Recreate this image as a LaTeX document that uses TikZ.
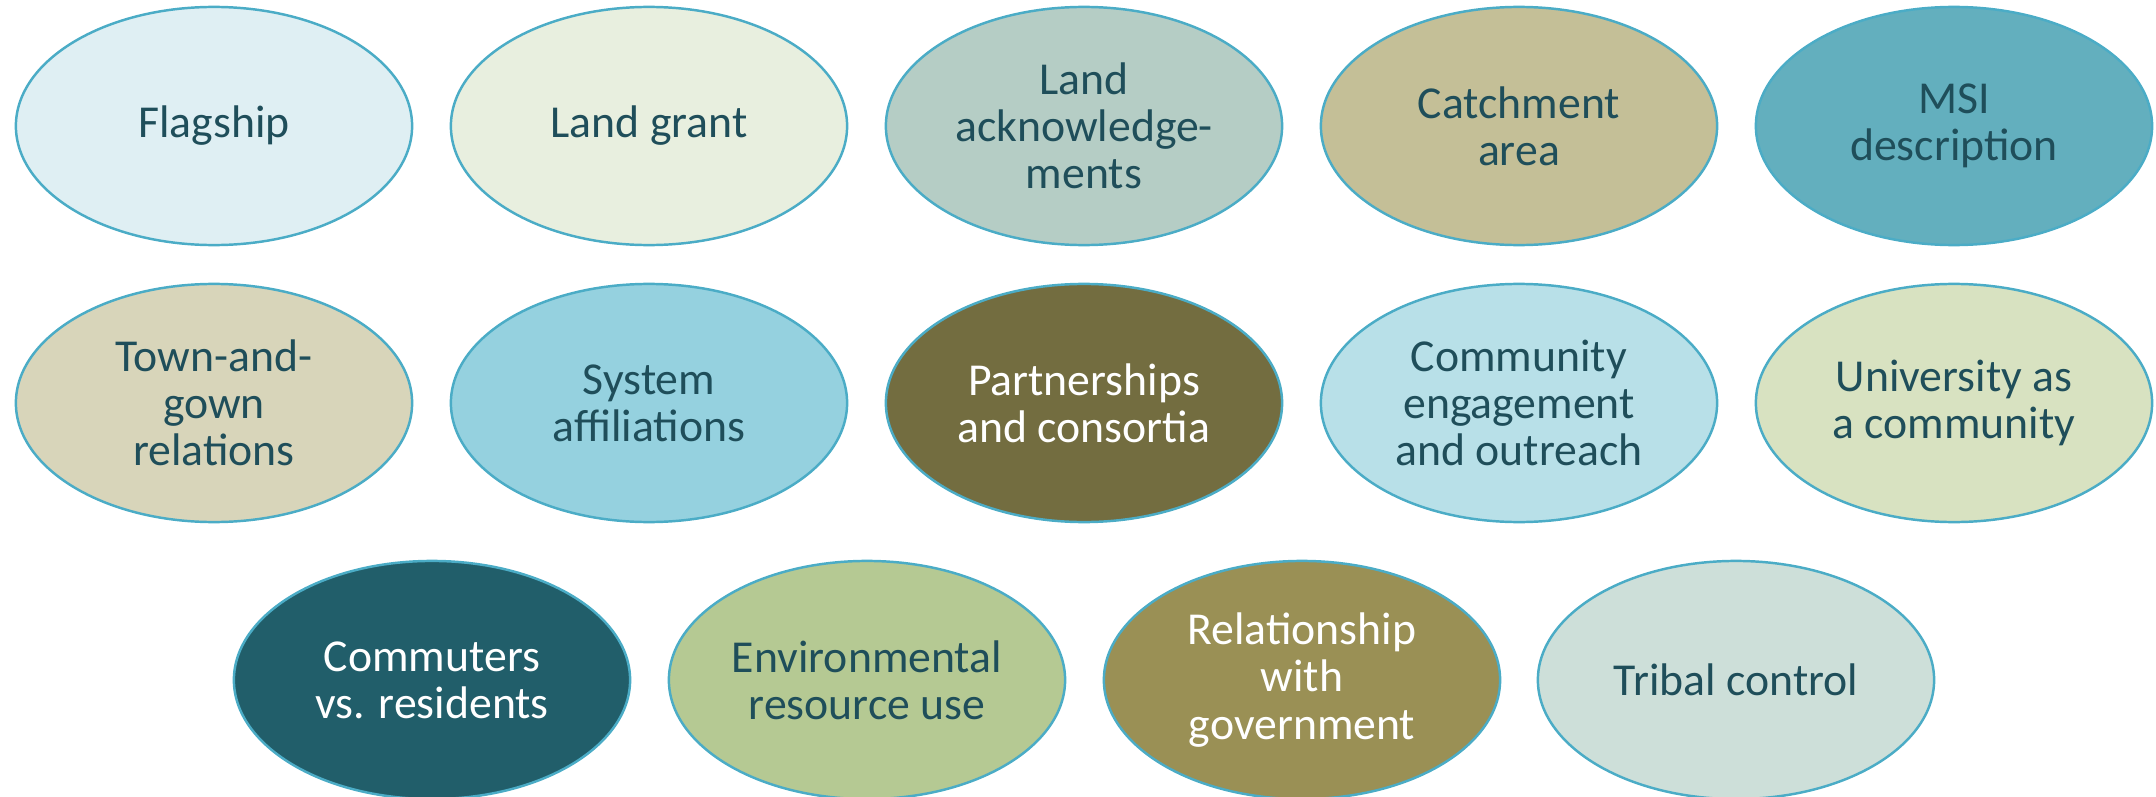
\documentclass[tikz,border=0pt]{standalone}
\usepackage{fontspec}
\setmainfont{Carlito}
\usetikzlibrary{shapes.geometric}

\definecolor{rim}{HTML}{4BACC6}
\definecolor{ink}{HTML}{1F4E5A}
\definecolor{flagfill}{HTML}{DFEFF3}
\definecolor{grantfill}{HTML}{E8EFDF}
\definecolor{ackfill}{HTML}{B5CDC5}
\definecolor{catchfill}{HTML}{C4BF97}
\definecolor{msifill}{HTML}{63AFBE}
\definecolor{townfill}{HTML}{D8D5BA}
\definecolor{sysfill}{HTML}{95D1DF}
\definecolor{partfill}{HTML}{736D40}
\definecolor{commfill}{HTML}{B8E0E8}
\definecolor{unifill}{HTML}{D8E2C1}
\definecolor{commutefill}{HTML}{215E6A}
\definecolor{envfill}{HTML}{B5C993}
\definecolor{govfill}{HTML}{9A9055}
\definecolor{tribfill}{HTML}{CDDFD9}

\begin{document}
\begin{tikzpicture}[x=0.01cm, y=-0.01cm,
    topic/.style={ellipse, draw=rim, line width=0.7pt, inner sep=0pt,
        minimum width=3.96cm, minimum height=2.38cm, text=ink, align=center,
        font=\fontsize{13pt}{13.4pt}\selectfont},
    lighttext/.style={text=white}]
\useasboundingbox (0,0) rectangle (2156,797);

% first row
\node[topic, fill=flagfill] (flag) at (214,126) {Flagship};
\node[topic, fill=grantfill] (grant) at (649,126) {Land grant};
\node[topic, fill=ackfill] (ack) at (1084,126) {Land\\acknowledge-\\ments};
\node[topic, fill=catchfill] (catch) at (1519,126) {Catchment\\area};
\node[topic, fill=msifill] (msi) at (1954,126) {MSI\\description};

% second row
\node[topic, fill=townfill] (town) at (214,403) {Town-and-\\gown\\relations};
\node[topic, fill=sysfill] (sys) at (649,403) {System\\affiliations};
\node[topic, fill=partfill, lighttext] (part) at (1084,403) {Partnerships\\and consortia};
\node[topic, fill=commfill] (comm) at (1519,403) {Community\\engagement\\and outreach};
\node[topic, fill=unifill] (uni) at (1954,403) {University as\\a community};

% third row
\node[topic, fill=commutefill, lighttext] (commute) at (432,680) {Commuters\\vs. residents};
\node[topic, fill=envfill] (env) at (867,680) {Environmental\\resource use};
\node[topic, fill=govfill, lighttext] (gov) at (1302,680) {Relationship\\with\\government};
\node[topic, fill=tribfill] (trib) at (1736,680) {Tribal control};

\end{tikzpicture}
\end{document}
